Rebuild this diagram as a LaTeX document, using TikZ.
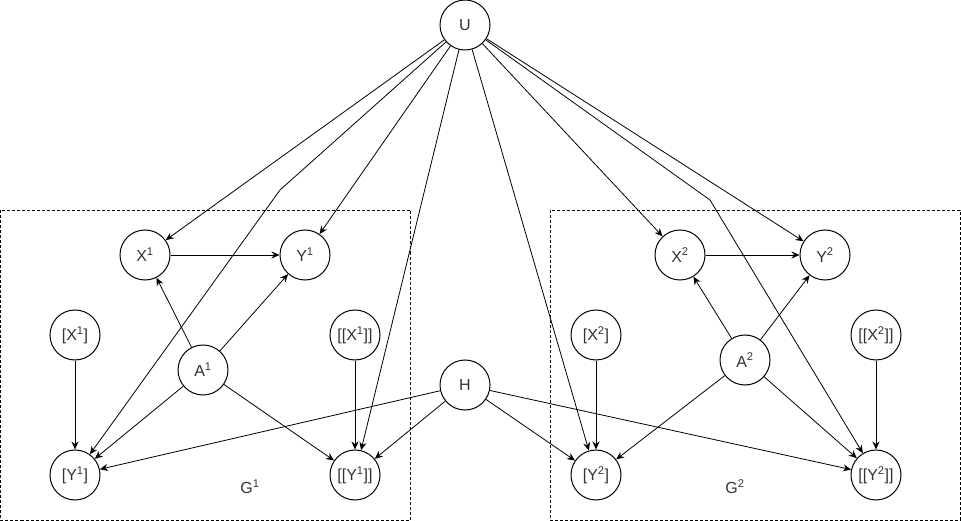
\documentclass[tikz,border=0pt]{standalone}
\usepackage{fontspec}
\setmainfont{Liberation Sans}
\usetikzlibrary{arrows.meta}
\begin{document}
\begin{tikzpicture}[x=1pt,y=-1pt,
  var/.style={circle,draw,line width=1pt,minimum size=50pt,inner sep=0pt,font=\fontsize{16}{18}\selectfont,text=black!80},
  arr/.style={line width=0.8pt,-{Stealth[length=8pt,width=7pt]}},
  plain/.style={line width=0.8pt},
  grp/.style={draw,line width=0.8pt,dash pattern=on 3pt off 2pt},
  lbl/.style={font=\fontsize{16}{18}\selectfont,text=black!80}]
\useasboundingbox (0,0) rectangle (961,521);
\draw[grp] (0.5,210) rectangle (410,520);
\draw[grp] (550,210) rectangle (960,520);
\node[lbl] (g1) at (250,487) {G\textsuperscript{1}};
\node[lbl] (g2) at (735,487) {G\textsuperscript{2}};
\node[var] (U) at (465,25) {U};
\node[var] (H) at (465,385) {H};
% left group
\node[var] (X1) at (145,255) {X\textsuperscript{1}};
\node[var] (Y1) at (305,255) {Y\textsuperscript{1}};
\node[var] (bX1) at (75,335) {[X\textsuperscript{1}]};
\node[var] (bbX1) at (355,335) {[[X\textsuperscript{1}]]};
\node[var] (A1) at (203,370) {A\textsuperscript{1}};
\node[var] (bY1) at (75,475) {[Y\textsuperscript{1}]};
\node[var] (bbY1) at (355,475) {[[Y\textsuperscript{1}]]};
% right group
\node[var] (X2) at (680,255) {X\textsuperscript{2}};
\node[var] (Y2) at (825,255) {Y\textsuperscript{2}};
\node[var] (bX2) at (596,335) {[X\textsuperscript{2}]};
\node[var] (bbX2) at (876,335) {[[X\textsuperscript{2}]]};
\node[var] (A2) at (745,360) {A\textsuperscript{2}};
\node[var] (bY2) at (596,475) {[Y\textsuperscript{2}]};
\node[var] (bbY2) at (876,475) {[[Y\textsuperscript{2}]]};
\coordinate (k1) at (280,190);
\coordinate (k2) at (710,200);
% U edges
\draw[arr] (U) -- (X1);
\draw[arr] (U) -- (k1) -- (bY1);
\draw[arr] (U) -- (Y1);
\draw[arr] (U) -- (bbY1);
\draw[arr] (U) -- (bY2);
\draw[arr] (U) -- (X2);
\draw[arr] (U) -- (k2) -- (bbY2);
\draw[arr] (U) -- (Y2);
% left group edges
\draw[arr] (X1) -- (Y1);
\draw[arr] (A1) -- (X1);
\draw[arr] (A1) -- (Y1);
\draw[arr] (A1) -- (bY1);
\draw[arr] (A1) -- (bbY1);
\draw[arr] (bX1) -- (bY1);
\draw[arr] (bbX1) -- (bbY1);
% right group edges
\draw[arr] (X2) -- (Y2);
\draw[arr] (A2) -- (X2);
\draw[arr] (A2) -- (Y2);
\draw[arr] (A2) -- (bY2);
\draw[arr] (A2) -- (bbY2);
\draw[arr] (bX2) -- (bY2);
\draw[arr] (bbX2) -- (bbY2);
% H edges
\draw[arr] (H) -- (bY1);
\draw[arr] (H) -- (bbY1);
\draw[arr] (H) -- (bY2);
\draw[arr] (H) -- (bbY2);
\end{tikzpicture}
\end{document}
